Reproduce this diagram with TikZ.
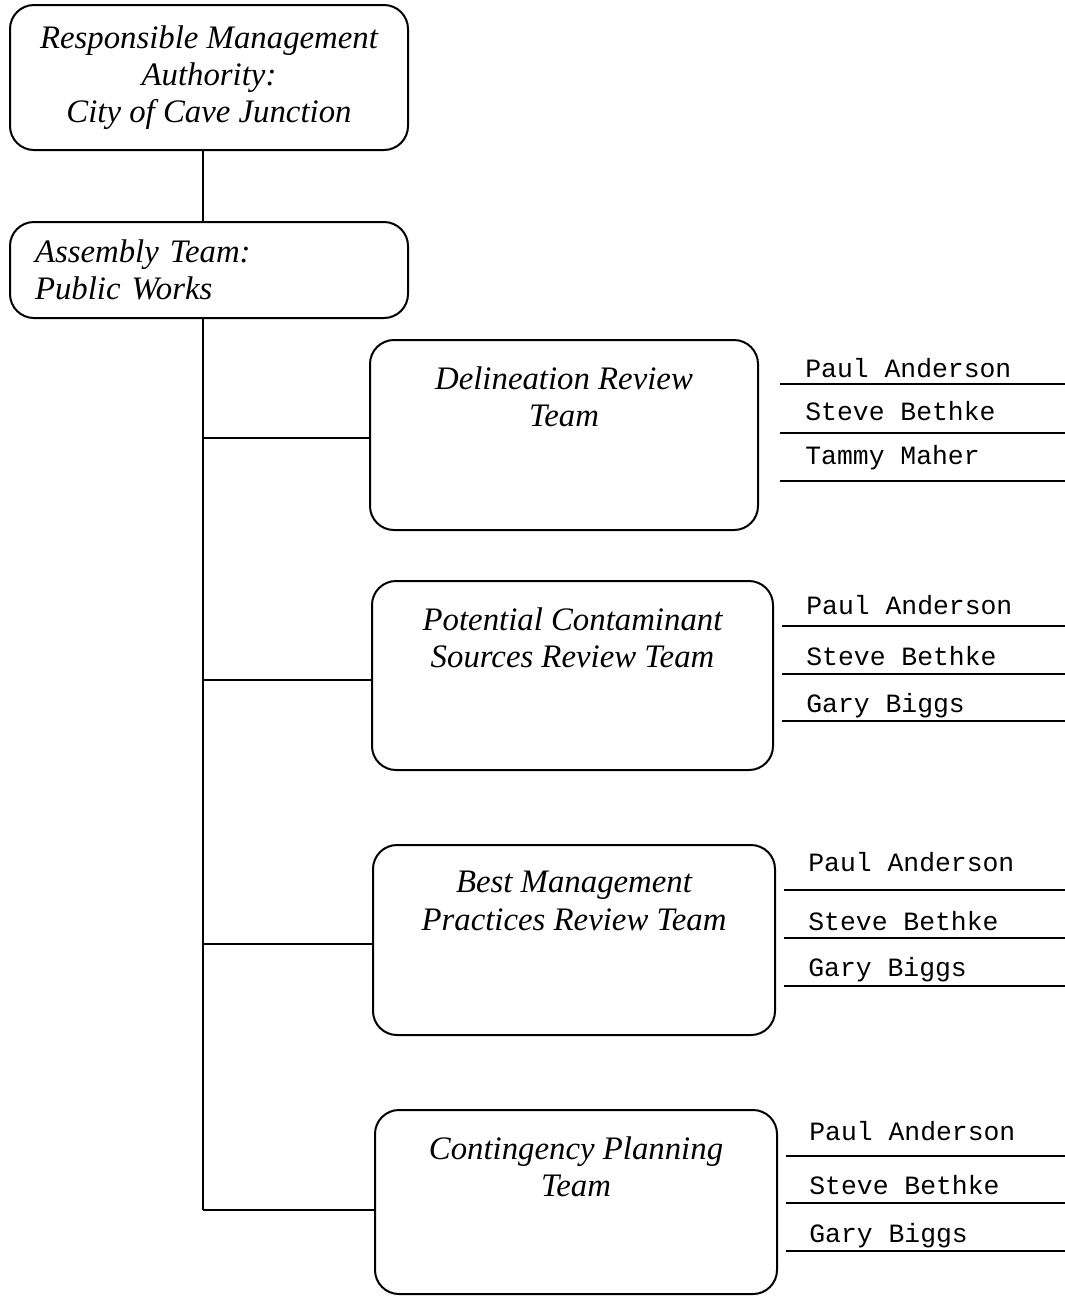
\documentclass[tikz,border=0pt]{standalone}
\usepackage{fontspec}
\setmainfont{Liberation Serif}
\setmonofont{Liberation Mono}
\usetikzlibrary{calc}

\begin{document}
\begin{tikzpicture}[x=0.5pt,y=-0.5pt,
    caixa/.style={draw,line width=1pt,rounded corners=12pt,inner sep=0pt},
    rotulo/.style={font=\fontsize{16.4}{18.6}\selectfont\itshape,align=center,inner sep=0pt},
    nome/.style={font=\fontsize{13.2}{15}\selectfont\ttfamily,anchor=base west,inner sep=0pt},
    linha/.style={line width=0.9pt}]
	\useasboundingbox (0,0) rectangle (1065,1297);
	% autoridade responsavel
	\node[caixa,rotulo,minimum width=199pt,minimum height=72.5pt] (rma) at (209,77.5) {Responsible Management\\Authority:\\City of Cave Junction};
	% equipe de montagem
	\node[caixa,rotulo,align=left,text width=174pt,inner xsep=12.5pt,minimum height=48pt] (asm) at (209,270) {Assembly Team:\\Public Works};
	% caixas das equipes
	\node[caixa,minimum width=194pt,minimum height=95pt] (dr) at (564,435) {};
	\node[caixa,minimum width=200.5pt,minimum height=94.5pt] (pc) at (572.5,675.5) {};
	\node[caixa,minimum width=201pt,minimum height=95pt] (bm) at (574,940) {};
	\node[caixa,minimum width=201pt,minimum height=92pt] (cp) at (576,1202) {};
	\node[rotulo,anchor=north] (drt) at ([yshift=-13.5pt]dr.north) {Delineation Review\\Team};
	\node[rotulo,anchor=north] (pct) at ([yshift=-13.5pt]pc.north) {Potential Contaminant\\Sources Review Team};
	\node[rotulo,anchor=north] (bmt) at ([yshift=-13.5pt]bm.north) {Best Management\\Practices Review Team};
	\node[rotulo,anchor=north] (cpt) at ([yshift=-13.5pt]cp.north) {Contingency Planning\\Team};
	% tronco e ramos
	\coordinate (tronco) at (203,0);
	\coordinate (r1) at (203,438);
	\coordinate (r2) at (203,680);
	\coordinate (r3) at (203,944);
	\coordinate (r4) at (203,1210);
	\draw[line width=1pt] (rma.south -| tronco) -- (asm.north -| tronco);
	\draw[line width=1pt] (asm.south -| tronco) -- (r4);
	\draw[line width=1pt] (r1) -- (r1 -| dr.west);
	\draw[line width=1pt] (r2) -- (r2 -| pc.west);
	\draw[line width=1pt] (r3) -- (r3 -| bm.west);
	\draw[line width=1pt] (r4) -- (r4 -| cp.west);
	% membros
	\foreach \n/\y [count=\i] in {Paul Anderson/377,Steve Bethke/420,Tammy Maher/464}
		\node[nome] (dr\i) at (805,\y) {\n};
	\foreach \y in {384,433,481}
		\draw[linha] (780,\y) -- (1065,\y);
	\foreach \n/\y [count=\i] in {Paul Anderson/614,Steve Bethke/665,Gary Biggs/712}
		\node[nome] (pc\i) at (806,\y) {\n};
	\foreach \y in {626,674,721}
		\draw[linha] (782,\y) -- (1065,\y);
	\foreach \n/\y [count=\i] in {Paul Anderson/871,Steve Bethke/930,Gary Biggs/976}
		\node[nome] (bm\i) at (808,\y) {\n};
	\foreach \y in {890,938,986}
		\draw[linha] (784,\y) -- (1065,\y);
	\foreach \n/\y [count=\i] in {Paul Anderson/1140,Steve Bethke/1194,Gary Biggs/1242}
		\node[nome] (cp\i) at (809,\y) {\n};
	\foreach \y in {1156,1203,1251}
		\draw[linha] (786,\y) -- (1065,\y);
\end{tikzpicture}
\end{document}
